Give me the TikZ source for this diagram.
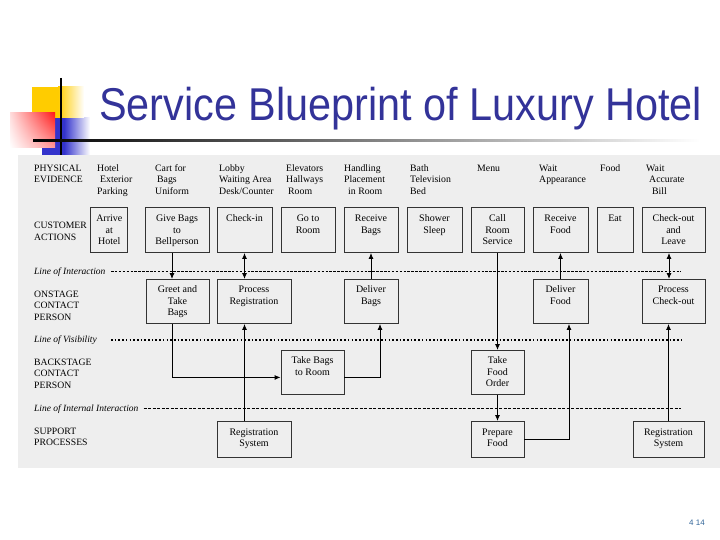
\documentclass[tikz,border=0pt]{standalone}
\usepackage{fontspec}
\setmainfont{Liberation Serif}
\newfontfamily\titlefont{Liberation Sans}
\usepackage{tikz}
\usetikzlibrary{arrows.meta}
\usetikzlibrary{positioning}
\usetikzlibrary{shadings}
\definecolor{bpgray}{HTML}{EEEEEE}
\definecolor{titleblue}{HTML}{333399}
\definecolor{pageblue}{HTML}{336699}
\definecolor{pixyellow}{HTML}{FFCC00}
\definecolor{pixred}{HTML}{FF1A1A}
\definecolor{pixblue}{HTML}{3333CC}
\newcommand{\ctab}[1]{\begin{tabular}[t]{@{}c@{}}#1\end{tabular}}
\newcommand{\ltab}[1]{\begin{tabular}[t]{@{}l@{}}#1\end{tabular}}
\tikzstyle{box}=[draw=black!80,line width=0.9pt,fill=bpgray,inner xsep=2pt,inner ysep=0pt,anchor=north,font=\fontsize{10}{11.4}\selectfont]
\tikzstyle{actbox}=[box,text height=14.5pt,text depth=30.5pt]
\tikzstyle{onbox}=[box,text height=13.5pt,text depth=30.5pt]
\tikzstyle{backbox}=[box,text height=13.5pt,text depth=30.5pt]
\tikzstyle{suppbox}=[box,text height=14pt,text depth=22pt]
\tikzstyle{evid}=[anchor=base west,inner sep=0pt,font=\fontsize{9.8}{11.5}\selectfont]
\tikzstyle{rowlbl}=[anchor=base west,inner sep=0pt,font=\fontsize{9.7}{11.3}\selectfont]
\tikzstyle{linelbl}=[anchor=base west,inner sep=0pt,font=\fontsize{9.5}{11}\selectfont\itshape]
\tikzstyle{interline}=[line width=0.9pt,dash pattern=on 2.5pt off 1.4pt]
\tikzstyle{visline}=[line width=1.8pt,dash pattern=on 1.6pt off 2.1pt]
\tikzstyle{intline}=[line width=0.6pt,dash pattern=on 3pt off 1.5pt]
\tikzstyle{flow}=[line width=0.9pt,-{Latex[length=6pt,width=5pt]}]
\tikzstyle{flowboth}=[line width=0.9pt,{Latex[length=6pt,width=5pt]}-{Latex[length=6pt,width=5pt]}]

\begin{document}
\begin{tikzpicture}[x=1pt,y=-1pt]
\fill[white] (0,0) rectangle (720,540);
\useasboundingbox (0,0) rectangle (720,540);
% template corner
\fill[pixblue] (42,118) rectangle (64,155);
\shade[left color=pixblue,right color=white] (64,118) rectangle (90,155);
\fill[pixyellow] (32,87) rectangle (58,118);
\shade[left color=pixyellow,right color=white] (58,87) rectangle (84,118);
\shade[upper right=pixred,upper left=pixred!15,lower right=pixred!45,lower left=white] (10,113) rectangle (55,148);
\draw[line width=2pt] (61,78) -- (61,157);
\shade[left color=black,right color=white] (33,140) rectangle (700,142);
\node [anchor=base west,inner sep=0pt,text=titleblue,font=\titlefont\fontsize{46}{50}\selectfont] (title) at (99,121)
  {\scalebox{0.9}[1]{Service Blueprint of Luxury Hotel}};
\fill[bpgray] (18,155) rectangle (720,468);

% row labels
\node [rowlbl] (physical) at (34,171.5) {\ltab{PHYSICAL\\EVIDENCE}};
\node [rowlbl] (customer) at (34,229) {\ltab{CUSTOMER\\ACTIONS}};
\node [rowlbl] (onstage) at (34,297.5) {\ltab{ONSTAGE\\CONTACT\\PERSON}};
\node [rowlbl] (backstage) at (34,365.5) {\ltab{BACKSTAGE\\CONTACT\\PERSON}};
\node [rowlbl] (support) at (34,434) {\ltab{SUPPORT\\PROCESSES}};
\node [linelbl] (loi) at (34,274) {Line of Interaction};
\node [linelbl] (lov) at (34,342) {Line of Visibility};
\node [linelbl] (lii) at (34,411) {Line of Internal Interaction};
\coordinate (lstart) at (111,0);
\coordinate (lend) at (681,0);
\draw[interline] (loi.east -| lstart) -- (loi.east -| lend);
\draw[visline] (lov.east -| lstart) -- (lov.east -| lend);
\draw[intline] ([xshift=5pt]lii.east) -- (lii.east -| lend);

% physical evidence
\node [evid] (ev1) at (97,171.5) {\ltab{Hotel\\\hspace*{3pt}Exterior\\Parking}};
\node [evid] (ev2) at (155,171.5) {\ltab{Cart for\\\hspace*{2pt}Bags\\Uniform}};
\node [evid] (ev3) at (219,171.5) {\ltab{Lobby\\Waiting Area\\Desk/Counter}};
\node [evid] (ev4) at (286,171.5) {\ltab{Elevators\\Hallways\\\hspace*{2pt}Room}};
\node [evid] (ev5) at (344,171.5) {\ltab{Handling\\Placement\\\hspace*{4pt}in Room}};
\node [evid] (ev6) at (410,171.5) {\ltab{Bath\\Television\\Bed}};
\node [evid] (ev7) at (477,171.5) {Menu};
\node [evid] (ev8) at (539,171.5) {\ltab{Wait\\Appearance}};
\node [evid] (ev9) at (600,171.5) {Food};
\node [evid] (ev10) at (646,171.5) {\ltab{Wait\\\hspace*{3pt}Accurate\\\hspace*{6pt}Bill}};

% customer actions
\node [actbox,minimum width=37pt] (arrive) at (109.3,207) {\ctab{Arrive\\at\\Hotel}};
\node [actbox,minimum width=64pt] (givebags) at (177,207) {\ctab{Give Bags\\to\\Bellperson}};
\node [actbox,minimum width=55pt] (checkin) at (244.5,207) {Check-in};
\node [actbox,minimum width=54pt] (gotoroom) at (308,207) {\ctab{Go to\\Room}};
\node [actbox,minimum width=54pt] (recvbags) at (371,207) {\ctab{Receive\\Bags}};
\node [actbox,minimum width=55pt] (shower) at (434.5,207) {\ctab{Shower\\Sleep}};
\node [actbox,minimum width=53pt] (callroom) at (497.5,207) {\ctab{Call\\Room\\Service}};
\node [actbox,minimum width=55pt] (recvfood) at (560.5,207) {\ctab{Receive\\Food}};
\node [actbox,minimum width=36pt] (eat) at (615,207) {Eat};
\node [actbox,minimum width=63pt] (checkout) at (673.5,207) {\ctab{Check-out\\and\\Leave}};

% onstage
\node [onbox,minimum width=63pt] (greet) at (177.5,279) {\ctab{Greet and\\Take\\Bags}};
\node [onbox,minimum width=74pt] (procreg) at (254,279) {\ctab{Process\\Registration}};
\node [onbox,minimum width=54pt] (delbags) at (371,279) {\ctab{Deliver\\Bags}};
\node [onbox,minimum width=55pt] (delfood) at (560.5,279) {\ctab{Deliver\\Food}};
\node [onbox,minimum width=63pt] (proccheck) at (673.5,279) {\ctab{Process\\Check-out}};

% backstage
\node [backbox,minimum width=63pt] (takebags) at (312.5,350) {\ctab{Take Bags\\to Room}};
\node [backbox,minimum width=53pt] (takeorder) at (497.5,350) {\ctab{Take\\Food\\Order}};

% support
\node [suppbox,minimum width=74pt] (regsys) at (254,421) {\ctab{Registration\\System}};
\node [suppbox,minimum width=53pt] (prepfood) at (497.5,421) {\ctab{Prepare\\Food}};
\node [suppbox,minimum width=71pt] (regsys2) at (668.5,421) {\ctab{Registration\\System}};

\draw[flow] ([xshift=-5pt]givebags.south) -- ([xshift=-5pt]givebags.south |- greet.north);
\draw[flowboth] (checkin.south) -- (checkin.south |- procreg.north);
\draw[flow] (regsys.north -| checkin.south) -- (procreg.south -| checkin.south);
\draw[flow] ([xshift=-5.5pt]greet.south) |- ([yshift=-5pt]takebags.west);
\draw[flow] ([yshift=-5pt]takebags.east) -| ([xshift=9pt]delbags.south);
\draw[flow] (delbags.north) -- (recvbags.south);
\draw[flow] (callroom.south) -- (takeorder.north);
\draw[flow] (takeorder.south) -- (prepfood.north);
\draw[flow] (prepfood.east) -| ([xshift=8.5pt]delfood.south);
\draw[flow] (delfood.north) -- (recvfood.south);
\draw[flowboth] ([xshift=-4.5pt]checkout.south) -- ([xshift=-4.5pt]checkout.south |- proccheck.north);
\draw[flow] (regsys2.north) -- (regsys2.north |- proccheck.south);

\node [anchor=base east,inner sep=0pt,text=pageblue,font=\titlefont\fontsize{8}{9}\selectfont] (pgno) at (705,525) {4 14};
\end{tikzpicture}
\end{document}
